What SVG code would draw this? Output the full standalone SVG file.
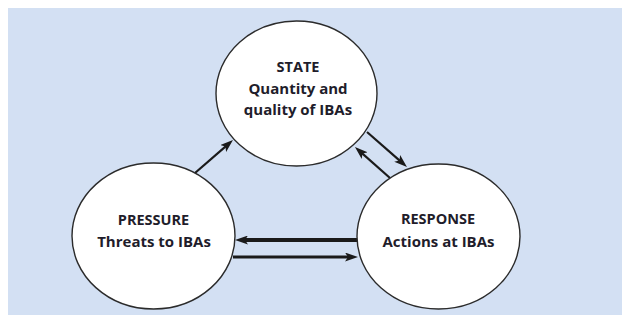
<svg xmlns="http://www.w3.org/2000/svg" width="622" height="325" viewBox="0 0 622 325">
  <style>
    .node { fill: #ffffff; stroke: #2b2b2b; stroke-width: 1.4; }
    .title { font-family: "Open Sans", "Liberation Sans", sans-serif; font-weight: 700; font-size: 14.5px; fill: #1f1d2b; text-anchor: middle; }
    .sub { font-family: "Open Sans", "Liberation Sans", sans-serif; font-weight: 700; font-size: 15px; fill: #1f1d2b; text-anchor: middle; }
    .link { stroke: #1a1a1a; fill: none; marker-end: url(#arrow); }
  </style>
  <defs>
    <marker id="arrow" markerUnits="userSpaceOnUse" markerWidth="13" markerHeight="9" refX="6" refY="4.5" orient="auto">
      <path d="M0,0 L13,4.5 L0,9 L3,4.5 z" fill="#1a1a1a"/>
    </marker>
  </defs>

  <!-- panel background -->
  <rect x="8" y="8" width="614" height="307" fill="#d3e0f3"/>

  <!-- connectors -->
  <g id="connectors">
    <line class="link" x1="195" y1="173" x2="227.7" y2="144.6" stroke-width="2.2"/>
    <line class="link" x1="367" y1="132" x2="401.7" y2="162.4" stroke-width="2.2"/>
    <line class="link" x1="390" y1="178" x2="360.2" y2="151.6" stroke-width="2.2"/>
    <line class="link" x1="357" y1="240" x2="242" y2="240" stroke-width="4"/>
    <line class="link" x1="233" y1="257" x2="351" y2="257" stroke-width="3"/>
  </g>

  <!-- STATE -->
  <g id="state">
    <ellipse class="node" cx="296.5" cy="93.5" rx="80.5" ry="72.5"/>
    <text class="title" x="298" y="72">STATE</text>
    <text class="sub" x="298" y="94">Quantity and</text>
    <text class="sub" x="298" y="115">quality of IBAs</text>
  </g>

  <!-- PRESSURE -->
  <g id="pressure">
    <ellipse class="node" cx="153.5" cy="236" rx="81.5" ry="73"/>
    <text class="title" x="153.5" y="225">PRESSURE</text>
    <text class="sub" x="154" y="247">Threats to IBAs</text>
  </g>

  <!-- RESPONSE -->
  <g id="response">
    <ellipse class="node" cx="438.5" cy="236.5" rx="81.5" ry="72.5"/>
    <text class="title" x="438" y="224">RESPONSE</text>
    <text class="sub" x="438.5" y="247">Actions at IBAs</text>
  </g>
</svg>
